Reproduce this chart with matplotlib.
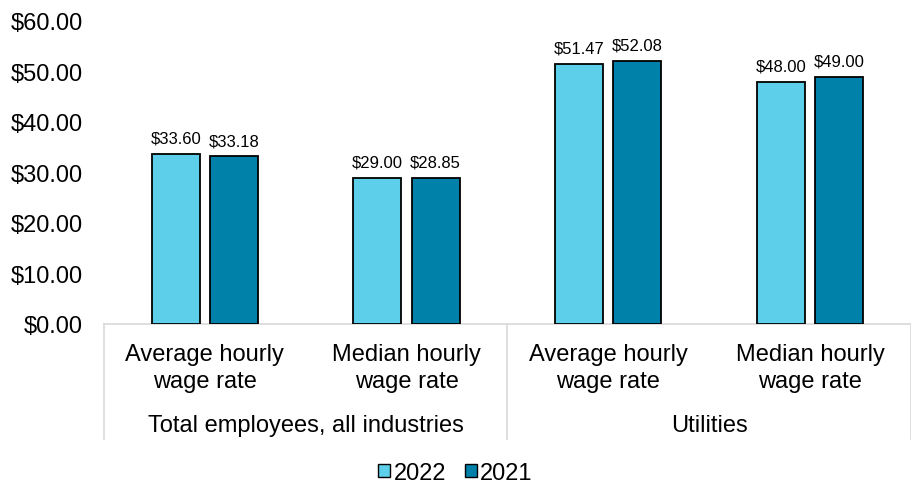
import matplotlib
matplotlib.use("Agg")
import matplotlib.pyplot as plt
import matplotlib.transforms as mtransforms
from matplotlib.patches import Patch
import numpy as np

plt.rcParams['font.family'] = ['Liberation Sans', 'DejaVu Sans']

categories = ["Average hourly\nwage rate", "Median hourly\nwage rate",
              "Average hourly\nwage rate", "Median hourly\nwage rate"]
groups = ["Total employees, all industries", "Utilities"]
series_names = ["2022", "2021"]
values_2022 = [33.60, 29.00, 51.47, 48.00]
values_2021 = [33.18, 28.85, 52.08, 49.00]
yticks = [0, 10, 20, 30, 40, 50, 60]

colors = ["#5ECFEA", "#0081AA"]

fig = plt.figure(figsize=(9.11, 4.85), dpi=100)
ax_h = 0.6247
ax = fig.add_axes([0.114, 0.33, 0.886, ax_h])

x = np.arange(len(categories))
width = 0.238
offset = 0.144
for vals, off, col in [(values_2022, -offset, colors[0]), (values_2021, offset, colors[1])]:
    bars = ax.bar(x + off, vals, width, color=col, edgecolor="black", linewidth=1.3, zorder=3)
    for b, v in zip(bars, vals):
        ax.annotate(f"${v:.2f}", (b.get_x() + b.get_width() / 2, v), xytext=(0, 6),
                    textcoords="offset points", ha="center", va="bottom", fontsize=12)

ax.set_xlim(-0.5, 3.5)
ax.set_ylim(0, 60)
ax.set_yticks(yticks)
ax.set_yticklabels([f"${t:.2f}" for t in yticks], fontsize=17)
ax.tick_params(axis="y", length=0, pad=15)
ax.set_xticks(x)
ax.set_xticklabels(categories, fontsize=17, linespacing=1.3)
ax.tick_params(axis="x", length=0, pad=14)
for s in ["top", "right", "left"]:
    ax.spines[s].set_visible(False)
ax.spines["bottom"].set_color("#D9D9D9")
ax.spines["bottom"].set_linewidth(1.2)

def fy(py):
    return ((485 - py) / 485 - 0.33) / ax_h

trans = mtransforms.blended_transform_factory(ax.transData, ax.transAxes)
for sx in [-0.5, 1.5, 3.5]:
    ax.plot([sx, sx], [0, fy(440)], transform=trans, color="#D9D9D9", lw=1.2, clip_on=False)
for gi, g in enumerate(groups):
    ax.text(gi * 2 + 0.5, fy(426), g, transform=trans, ha="center", va="center", fontsize=17)

handles = [Patch(facecolor=c, edgecolor="black", linewidth=1.0) for c in colors]
fig.legend(handles, series_names, loc="center", bbox_to_anchor=(0.5, 0.023), ncol=2,
           frameon=False, fontsize=17, handlelength=0.5, handleheight=0.5,
           handletextpad=0.15, columnspacing=0.8)

fig.savefig("out.png", dpi=100)
